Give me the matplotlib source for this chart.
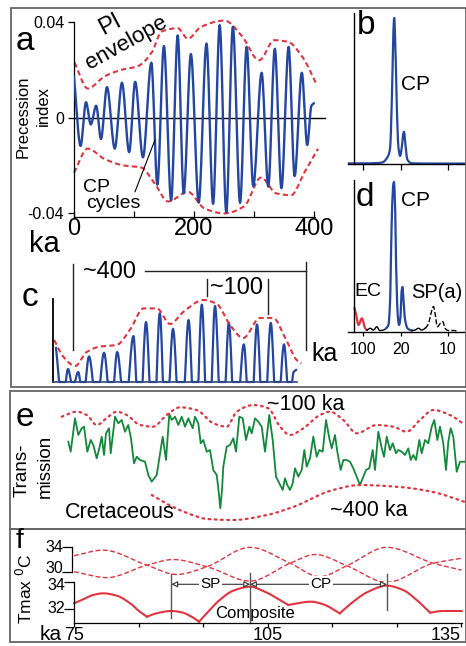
import numpy as np
import matplotlib
matplotlib.use("Agg")
import matplotlib.pyplot as plt
from matplotlib.patches import Rectangle

REG = ['Liberation Sans', 'DejaVu Sans']
plt.rcParams['font.family'] = REG

BLUE = '#2346a0'
RED = '#e2343f'
GREEN = '#12893a'
FRAME = '#666666'

# ---- panel a / c : precession index (ka, index) ----
pi_t = [0, 11, 20, 28, 37, 45, 55, 68, 80, 92, 102, 115, 129, 139, 150, 162, 173, 183,
        195, 208, 221, 232, 243, 254, 265, 277, 288, 299, 313, 324, 335, 346, 358, 368,
        380, 389, 396, 400]
pi_v = [0.017, -0.0118, 0.0065, -0.0028, 0.005, -0.0089, 0.0128, -0.0129, 0.0146, -0.0144,
        0.015, -0.0166, 0.023, -0.028, 0.030, -0.0346, 0.0344, -0.0316, 0.0266, -0.0355,
        0.031, -0.036, 0.0387, -0.0395, 0.038, -0.0356, 0.0296, -0.0286, 0.0188, -0.0288,
        0.0288, -0.0295, 0.0296, -0.0244, 0.0188, -0.0114, 0.005, 0.006]
env_up_t = [1, 23, 51, 79, 107, 130, 146, 173, 190, 212, 251, 279, 309, 334, 357, 382, 405]
env_up_v = [0.023, 0.0122, 0.0173, 0.020, 0.0216, 0.0274, 0.036, 0.0374, 0.033, 0.038,
            0.0406, 0.0345, 0.024, 0.0324, 0.0317, 0.025, 0.0137]
env_lo_t = [0, 23, 51, 84, 112, 134, 157, 190, 218, 251, 284, 312, 337, 362, 384, 407]
env_lo_v = [-0.023, -0.0129, -0.0173, -0.020, -0.0208, -0.0273, -0.035, -0.031, -0.038,
            -0.040, -0.037, -0.025, -0.0316, -0.0324, -0.023, -0.013]
c_env_t = [-3, 12, 32, 51, 73, 101, 123, 146, 168, 190, 212, 246, 268, 290, 312, 340, 362,
           382, 401, 409]
c_env_v = [0.021, 0.0127, 0.008, 0.015, 0.0177, 0.0185, 0.026, 0.0368, 0.0368, 0.029,
           0.035, 0.041, 0.039, 0.0285, 0.022, 0.032, 0.032, 0.022, 0.011, 0.0093]
c_long = (28, 417)     # ~400 bracket ends, ka
c_short = (252, 353)   # ~100 bracket ends, ka

# ---- panel b / d : spectra (cycles/ka, relative power) ----
b_freq = [-0.005, 0.010, 0.020, 0.030, 0.0365, 0.0386, 0.0404, 0.0415, 0.0429, 0.0442,
          0.0457, 0.0474, 0.0492, 0.0510, 0.0524, 0.0534, 0.0548, 0.0569, 0.0616, 0.080,
          0.100, 0.119]
b_pow = [0.004, 0.004, 0.005, 0.010, 0.055, 0.11, 0.43, 0.78, 1.00, 0.80, 0.39, 0.115,
         0.055, 0.115, 0.205, 0.22, 0.135, 0.03, 0.005, 0.003, 0.003, 0.003]
d_freq = [0.0009, 0.0025, 0.0051, 0.0087, 0.0122, 0.0140, 0.0176, 0.0210, 0.0245, 0.0275,
          0.0314, 0.0344, 0.0369, 0.0386, 0.0400, 0.0410, 0.0421, 0.0427, 0.0439, 0.0450,
          0.0468, 0.0481, 0.0496, 0.0506, 0.0517, 0.0527, 0.0545, 0.0570, 0.0616, 0.0650,
          0.0686, 0.0720, 0.0757, 0.0792, 0.0820, 0.0845, 0.0862, 0.0887, 0.0915, 0.0944,
          0.0968, 0.1003, 0.1056, 0.1106]
d_pow = [0.158, 0.12, 0.047, 0.091, 0.025, 0.013, 0.025, 0.013, 0.035, 0.010, 0.013, 0.025,
         0.05, 0.21, 0.66, 0.88, 0.99, 1.00, 0.835, 0.435, 0.10, 0.047, 0.10, 0.26, 0.30,
         0.21, 0.08, 0.025, 0.010, 0.013, 0.025, 0.013, 0.025, 0.055, 0.125, 0.17, 0.125,
         0.035, 0.055, 0.069, 0.025, 0.010, 0.010, 0.005]
d_bands = [(0.0, 0.014, RED, '-'), (0.014, 0.0344, 'k', '-'), (0.0344, 0.0616, BLUE, '-'),
           (0.0616, 0.0757, 'k', '-'), (0.0757, 0.12, 'k', '--')]
period_ticks = [0.01, 0.05, 0.1]
period_labels = ['100', '20', '10']

# ---- panel e : Cretaceous transmission (relative units) ----
e_x = [8.3, 10.7, 15, 18.3, 21.7, 24, 27.3, 30.7, 33.3, 36.7, 39.3, 41.7, 44, 46, 49, 50.7,
       55, 58.3, 61.7, 65, 68.3, 71, 74, 76.7, 80, 85, 88.3, 91.7, 96.7, 99.3, 102.7, 106,
       109.3, 111.7, 115, 118.3, 121.7, 125, 128.3, 132.7, 135, 138.3, 140.7, 143.3, 146.7,
       150, 153.3, 156.7, 158.7, 160.3, 162, 163.3, 166.7, 170, 173.3, 176, 179.3, 182.7,
       186, 189.3, 191.7, 195, 198.3, 201.7, 205, 209.3, 212.7, 216, 219.3, 222.7, 225,
       227.3, 230, 232.7, 235, 238.3, 241.7, 244.3, 246.7, 250, 253.3, 256.7, 259.3, 262.7,
       266, 269.3, 271.7, 275, 277.3, 280.7, 283.3, 286.7, 290, 293.3, 296.7, 300, 303.3,
       306, 309.3, 312.7, 315, 318.3, 321.7, 324, 326.7, 330, 332.7, 336, 338.3, 341.7,
       345, 348.3, 350.7, 353.3, 356, 359.3, 361.7, 365, 368.3, 371.7, 374.3, 377.3, 380,
       383.3, 386, 388.3, 390.7, 393.3, 396.7, 400, 404.3]
e_y = [78.3, 68.3, 101.7, 85, 91.7, 93.3, 68.3, 80, 75, 61.7, 71.7, 83.3, 65, 86.7, 91.7,
       66.7, 103.3, 96.7, 100, 88.3, 95, 81.7, 56.7, 63.3, 60, 58.3, 45, 38.3, 45, 61.7,
       83.3, 60, 106, 100, 103.3, 95, 103.3, 93.3, 101.7, 91.7, 103.3, 96.7, 76.7, 80, 68.3,
       70, 50, 45, 28, 11.7, 30, 53.3, 73.3, 75, 81.7, 68.3, 103.3, 101.7, 80, 93.3, 86.7,
       101.7, 98.3, 93.3, 68.3, 105, 80, 43.3, 36.7, 30, 41.7, 35, 30, 36.7, 51.7, 43.3,
       50, 70, 53.3, 61.7, 83.3, 63.3, 70, 68.3, 100, 81.7, 71.7, 85, 68.3, 50, 60, 60,
       58.3, 51.7, 43.3, 35, 43.3, 50, 51.7, 70, 50, 88.3, 71.7, 63.3, 83.3, 70, 76.7,
       66.7, 70, 68.3, 65, 71.7, 60, 65, 60, 80, 66.7, 80, 76.7, 93.3, 100, 80, 93.3, 76.7,
       50, 78.3, 91.7, 83.3, 48.3, 58.3, 58.3]
e_up_x = [1.7, 16.7, 26.7, 36.7, 46.7, 56.7, 66.7, 80, 93, 106.7, 120, 136.7, 153.3, 166.7,
          176.7, 193.3, 208.3, 220, 230, 243.3, 260, 270, 283.3, 296.7, 316.7, 333.3, 346.7,
          360, 373.3, 390, 405]
e_up_y = [103.3, 108.3, 105, 95, 102, 108.3, 105, 95, 93.3, 105, 112.7, 110, 96.7, 93.3,
          108.3, 115, 111.7, 93.3, 85, 91.7, 105, 108.3, 100, 86.7, 95, 93.3, 88.3, 100,
          110, 105, 95]
e_lo_x = [91.7, 113, 127, 147, 173, 207, 233, 273, 300, 340, 373, 405]
e_lo_y = [25, 13, 7, 1, 0, 5, 13, 30, 35, 33, 28, 18]

# ---- panel f : Tmax (ka, deg C) ----
fa_t = [75, 79.5, 86.3, 90.9, 95.6, 102.3, 108.5, 113.1, 117.3, 123.5, 130.7, 135.1]
fa_T = [32.6, 33.5, 31.1, 29.6, 30.85, 33.95, 31.4, 29.25, 31.0, 33.95, 31.4, 30.3]
fb_t = [75, 80.1, 86.3, 90.4, 95.6, 102.3, 108.5, 112.4, 117.3, 123.5, 130.7, 135.1]
fb_T = [30.05, 29.1, 31.1, 32.0, 30.85, 28.55, 31.4, 32.8, 31.0, 28.35, 31.4, 32.2]
fc_t = [75.0, 76.45, 78.0, 79.55, 81.6, 83.7, 85.2, 86.3, 87.8, 90.1, 91.7, 93.2, 94.4,
        95.8, 97.6, 99.7, 102.3, 104.8, 106.9, 108.2, 111.8, 113.6, 116.2, 118.3, 120.4,
        123.5, 126.0, 128.1, 130.2, 132.2, 135.1]
fc_T = [32.42, 32.72, 33.04, 33.16, 32.99, 32.42, 31.80, 31.43, 31.68, 31.85, 31.75, 31.43,
        31.06, 31.80, 32.67, 33.36, 33.65, 33.23, 32.67, 32.30, 32.54, 32.35, 31.68, 32.54,
        33.23, 33.73, 33.41, 32.67, 31.73, 31.85, 31.85]
fc_dips = [7, 12, 19, 22, 28]
f_marks = [90.1, 102.3, 123.5]


def pchip(x, y, n=16):
    # monotone cubic through the read points, just for a smooth stroke
    x = np.asarray(x, float)
    y = np.asarray(y, float)
    h = np.diff(x)
    d = np.diff(y) / h
    m = np.empty_like(y)
    m[0], m[-1] = d[0], d[-1]
    for k in range(1, len(y) - 1):
        if d[k - 1] * d[k] <= 0:
            m[k] = 0.0
        else:
            w1 = 2 * h[k] + h[k - 1]
            w2 = h[k] + 2 * h[k - 1]
            m[k] = (w1 + w2) / (w1 / d[k - 1] + w2 / d[k])
    xs, ys = [], []
    s = np.linspace(0, 1, n, endpoint=False)
    for k in range(len(h)):
        h00 = 2 * s**3 - 3 * s**2 + 1
        h10 = s**3 - 2 * s**2 + s
        h01 = -2 * s**3 + 3 * s**2
        h11 = s**3 - s**2
        xs.append(x[k] + s * h[k])
        ys.append(h00 * y[k] + h10 * h[k] * m[k] + h01 * y[k + 1] + h11 * h[k] * m[k + 1])
    xs.append([x[-1]])
    ys.append([y[-1]])
    return np.concatenate(xs), np.concatenate(ys)


W, H = 466, 646
fig = plt.figure(figsize=(W / 100, H / 100), dpi=100)


def box(x0, y0, x1, y1):
    return [x0 / W, 1 - y1 / H, (x1 - x0) / W, (y1 - y0) / H]


def ftext(x, y, s, size, **kw):
    kw.setdefault('ha', 'center')
    kw.setdefault('va', 'center')
    fig.text(x / W, 1 - y / H, s, fontsize=size, **kw)


def bare(ax):
    for sp in ax.spines.values():
        sp.set_visible(False)
    ax.set_xticks([])
    ax.set_yticks([])
    ax.patch.set_alpha(0)


def ylab(ax, val, dy):
    # y label next to a tick, nudged up/down a little (labels sit tight in panel f)
    ax.annotate(str(val), xy=(0, val), xycoords=('axes fraction', 'data'),
                xytext=(-6.5, dy), textcoords='offset points', ha='right', va='center',
                fontsize=11.5, annotation_clip=False)


# frames
for (x0, y0, x1, y1) in [(11, 8, 465.5, 387), (10, 391, 465.5, 529), (10, 529, 465.5, 642)]:
    fig.add_artist(Rectangle((x0 / W, 1 - y1 / H), (x1 - x0) / W, (y1 - y0) / H,
                             transform=fig.transFigure, fill=False, ec=FRAME, lw=1.3))

# ---------------- panel a ----------------
ax = fig.add_axes(box(74, 22, 315, 217))
ax.patch.set_alpha(0)
ax.set_xlim(0, 402)
ax.set_ylim(-0.0415, 0.04)
for s in ['top', 'right']:
    ax.spines[s].set_visible(False)
for s in ['left', 'bottom']:
    ax.spines[s].set_linewidth(0.9)
ax.plot([0, 418], [0, 0], color='k', lw=1, clip_on=False, zorder=1)
tt, vv = pchip(pi_t, pi_v)
ax.plot(tt, vv, color=BLUE, lw=1.7, zorder=3)
for et, ev in [(env_up_t, env_up_v), (env_lo_t, env_lo_v)]:
    x, y = pchip(et, ev)
    ax.plot(x, y, color=RED, lw=1.5, ls=(0, (2.5, 1.6)), clip_on=False, zorder=2)
ax.set_yticks([0.04, 0, -0.04])
ax.set_yticklabels(['0.04', '0', '-0.04'], fontsize=11.5)
ax.set_xticks([0, 100, 200, 300, 400])
ax.set_xticklabels(['0', '', '200', '', '400'], fontsize=17)
ax.tick_params(axis='y', direction='out', length=4, width=0.9, pad=3)
ax.tick_params(axis='x', direction='in', length=4, width=0.9, pad=1)
ax.annotate('', xy=(135, -0.0093), xytext=(101.7, -0.031),
            arrowprops=dict(arrowstyle='-', lw=0.8, color='k', shrinkA=0, shrinkB=0))

ftext(25, 42, 'a', 24)
ftext(44, 244, 'ka', 21)
ftext(23, 117, 'Precession', 12, rotation=90)
ftext(43, 106, 'index', 12, rotation=90)
ftext(110, 25, 'PI', 17, rotation=28)
ftext(126, 43, 'envelope', 16, rotation=29)
ftext(97, 188, 'CP', 14)
ftext(113, 204, 'cycles', 14)

# ---------------- panel c ----------------
axc = fig.add_axes(box(50, 255, 310, 382))
axc.patch.set_alpha(0)
axc.set_xlim(-10, 423.3)
axc.set_ylim(0, 0.0635)
for s in ['top', 'right']:
    axc.spines[s].set_visible(False)
axc.spines['left'].set_position(('data', -5))
axc.spines['left'].set_bounds(0, 0.0415)
axc.spines['left'].set_linewidth(1.3)
axc.spines['bottom'].set_bounds(-5, 402)
axc.spines['bottom'].set_color('#34467a')
axc.spines['bottom'].set_linewidth(1.2)
axc.set_xticks([])
axc.set_yticks([])
axc.plot(tt, np.clip(vv, 0, None), color=BLUE, lw=1.6, clip_on=False)
x, y = pchip(c_env_t, c_env_v)
axc.plot(x, y, color=RED, lw=1.5, ls=(0, (2.5, 1.6)), clip_on=False)
lk = dict(color='#222222', lw=1.0, clip_on=False)
axc.plot([c_long[0], c_long[0]], [0.016, 0.059], **lk)
axc.plot([148, c_long[1]], [0.0555, 0.0555], **lk)
axc.plot([c_long[1], c_long[1]], [0.016, 0.060], **lk)
axc.plot([c_short[0], c_short[0]], [0.043, 0.0515], **lk)
axc.plot([c_short[1], c_short[1]], [0.034, 0.0515], **lk)
ftext(30, 297, 'c', 24)
ftext(110, 272, '~400', 17)
ftext(237, 288, '~100', 17)
ftext(325, 354, 'ka', 18)

# ---------------- panel b ----------------
axb = fig.add_axes(box(348, 13, 466, 164))
axb.patch.set_alpha(0)
axb.set_xlim(-0.006, 0.119)
axb.set_ylim(0, 1.034)
for s in ['top', 'right']:
    axb.spines[s].set_visible(False)
axb.spines['left'].set_position(('data', 0))
axb.spines['left'].set_linewidth(1.0)
axb.spines['bottom'].set_linewidth(1.0)
axb.set_yticks([])
axb.set_xticks(period_ticks)
axb.tick_params(axis='x', direction='out', length=4, width=0.9, labelbottom=False)
x, y = pchip(b_freq, b_pow, n=10)
axb.plot(x, y, color=BLUE, lw=1.6, clip_on=False)
ftext(366, 26, 'b', 24)
ftext(416, 84, 'CP', 15)

# ---------------- panel d ----------------
axd = fig.add_axes(box(348, 180, 466, 332))
axd.patch.set_alpha(0)
axd.set_xlim(-0.006, 0.119)
axd.set_ylim(0, 1.013)
for s in ['top', 'right']:
    axd.spines[s].set_visible(False)
axd.spines['left'].set_position(('data', 0))
axd.spines['left'].set_linewidth(1.0)
axd.spines['bottom'].set_linewidth(1.0)
axd.set_yticks([])
axd.set_xticks(period_ticks)
axd.set_xticklabels(period_labels, fontsize=11.5)
axd.tick_params(axis='x', direction='out', length=3, width=0.9, pad=4)
x, y = pchip(d_freq, d_pow, n=10)
for lo, hi, col, ls in d_bands:
    m = (x >= lo) & (x <= hi)
    axd.plot(x[m], y[m], color=col, lw=1.6 if col != 'k' else 1.0, ls=ls, clip_on=False)
ftext(365, 197, 'd', 24)
ftext(416, 201, 'CP', 15)
ftext(368, 291, 'EC', 14)
ftext(437, 292, 'SP(a)', 14.5)

# ---------------- panel e ----------------
axe = fig.add_axes(box(60, 391, 466, 530))
bare(axe)
axe.set_xlim(0, 406)
axe.set_ylim(-10, 129)
axe.plot(e_x, e_y, color=GREEN, lw=1.3)
for ex, ey in [(e_up_x, e_up_y), (e_lo_x, e_lo_y)]:
    x, y = pchip(ex, ey)
    axe.plot(x, y, color=RED, lw=1.6, ls=(0, (0.8, 2.0)), dash_capstyle='round')
ftext(25, 417, 'e', 24)
ftext(22, 470, 'Trans-', 13.5, rotation=90)
ftext(45, 466, 'mission', 13.5, rotation=90)
ftext(306, 405, '~100 ka', 15.5)
ftext(369, 511, '~400 ka', 15.5)
ftext(120, 512, 'Cretaceous', 15.5)

# ---------------- panel f ----------------
axu = fig.add_axes(box(72, 537, 462, 582))
axu.patch.set_alpha(0)
axu.set_xlim(74.69, 135.15)
axu.set_ylim(28.4, 35.6)
for s in ['top', 'right', 'bottom']:
    axu.spines[s].set_visible(False)
axu.spines['left'].set_bounds(30, 34)
axu.spines['left'].set_linewidth(0.9)
axu.set_xticks([])
axu.set_yticks([30, 34])
axu.tick_params(axis='y', direction='out', length=7, width=0.9, labelleft=False)
ylab(axu, 34, 0)
ylab(axu, 30, 2.5)
for ft, fT in [(fa_t, fa_T), (fb_t, fb_T)]:
    x, y = pchip(ft, fT)
    axu.plot(x, y, color=RED, lw=1.0, ls=(0, (3.5, 1.8)))

axl = fig.add_axes(box(74, 582, 462, 623))
axl.patch.set_alpha(0)
axl.set_xlim(75, 135.15)
axl.set_ylim(30.96, 34)
for s in ['top', 'right']:
    axl.spines[s].set_visible(False)
for s in ['left', 'bottom']:
    axl.spines[s].set_linewidth(0.9)
axl.set_yticks([32, 34])
axl.tick_params(axis='y', direction='out', length=7, width=0.9, labelleft=False)
ylab(axl, 34, -2.5)
ylab(axl, 32, 0)
axl.set_xticks(np.arange(75, 136, 10))
axl.set_xticklabels(['75', '', '', '105', '', '', '135'], fontsize=13)
axl.get_xticklabels()[-1].set_ha('right')
axl.tick_params(axis='x', direction='out', length=3, width=0.9, pad=0)
cuts = [0] + fc_dips + [len(fc_t) - 1]
for a0, a1 in zip(cuts[:-1], cuts[1:]):
    x, y = pchip(fc_t[a0:a1 + 1], fc_T[a0:a1 + 1])
    axl.plot(x, y, color=RED, lw=1.5, clip_on=False)
vk = dict(color='#555555', lw=1.0, clip_on=False)
axl.plot([f_marks[0]] * 2, [31.33, 34.59], **vk)
axl.plot([f_marks[1]] * 2, [30.96, 34.67], **vk)
axl.plot([f_marks[2]] * 2, [31.93, 34.59], **vk)
ap = dict(arrowstyle='<|-|>', color='#333333', lw=0.8, fc='white', mutation_scale=9,
          shrinkA=0, shrinkB=0)
axl.annotate('', xy=(f_marks[0], 33.83), xytext=(f_marks[1], 33.83), arrowprops=ap,
             annotation_clip=False)
axl.annotate('', xy=(f_marks[1], 33.83), xytext=(f_marks[2], 33.83), arrowprops=ap,
             annotation_clip=False)
bb = dict(boxstyle='square,pad=0.1', fc='white', ec='none')
axl.text(96.2, 33.83, 'SP', fontsize=11, ha='center', va='center', bbox=bb)
axl.text(113.3, 33.83, 'CP', fontsize=11, ha='center', va='center', bbox=bb)
axl.text(103.1, 31.7, 'Composite', fontsize=12, ha='center', va='center')

ftext(19, 541, 'f', 20)
ftext(25, 589, 'Tmax $^0$C', 12.5, rotation=90)
ftext(51, 634, 'ka', 15)

fig.savefig('out.png', dpi=100)
